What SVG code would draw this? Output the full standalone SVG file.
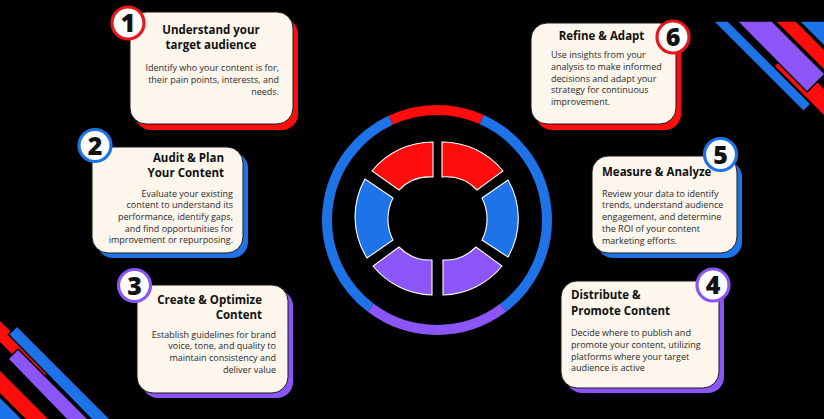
<svg xmlns="http://www.w3.org/2000/svg" width="824" height="419" viewBox="0 0 824 419">
<defs>
<style>
.t{font-family:"Open Sans","Liberation Sans",sans-serif;font-weight:700;font-size:11.5px;fill:#111}
.d{font-family:"Open Sans","Liberation Sans",sans-serif;font-weight:400;font-size:9px;fill:#2a2a2a}
.n{font-family:"Open Sans","Liberation Sans",sans-serif;font-weight:800;font-size:25px;fill:#111;text-anchor:middle}
.card{fill:#fdf6ec;stroke:#1a1a1a;stroke-width:1}
.badge{fill:#fff;stroke-width:3.2}
.r{fill:#ff0c0c}.b{fill:#1f73e8}.p{fill:#8c55f7}
.seg{stroke:#fff;stroke-width:1.1}
.ring{fill:none;stroke-width:10}
.st{stroke:#000;stroke-width:1.5}
</style>
</defs>
<rect width="824" height="419" fill="#000"/>

<g id="decor-top-right">
<polygon class="r st" points="774,66 788,52 830,94 830,122"/>
<polygon class="b st" points="713,21 728,21 811,104 803.5,111.5"/>
<polygon class="p st" points="737,21 772,21 825,74 807,92"/>
<polygon class="r st" points="775,21 796,21 826,51 826,72"/>
<polygon class="b st" points="799,21 826,21 826,48"/>
</g>
<g id="decor-bottom-left">
<polygon class="r st" points="-2,318 51,371 39.5,382.5 -2,341"/>
<polygon class="b st" points="17,326 112,421 93,421 8.5,334.5"/>
<polygon class="r st" points="-2,368 51,421 27,421 -2,392"/>
<polygon class="p st" points="18,349 90,421 68,421 8,359"/>
<polygon class="b st" points="-2,395 -2,421 24,421"/>
</g>

<g id="ring">
<path class="ring" stroke="#ff0c0c" d="M390.5,120.3 A110,110 0 0,1 481.7,119.5"/>
<path class="ring" stroke="#1f73e8" d="M481.7,119.5 A110,110 0 0,1 503.2,307.8"/>
<path class="ring" stroke="#8c55f7" d="M503.2,307.8 A110,110 0 0,1 370.8,307.8"/>
<path class="ring" stroke="#1f73e8" d="M370.8,307.8 A110,110 0 0,1 390.5,120.3"/>
</g>

<g id="donut">
<path class="seg r" d="M433,142 A78,78 0 0,0 372,171 L399,190 A43,43 0 0,1 433,177 Z"/>
<path class="seg r" d="M442,142 A78,78 0 0,1 503,171 L477,190 A43,43 0 0,0 442,177 Z"/>
<path class="seg b" d="M365,179 A77,77 0 0,0 367,258 L393,240 A46,46 0 0,1 393,198 Z"/>
<path class="seg b" d="M508,180 A77,77 0 0,1 508,257 L482,240 A46,46 0 0,0 482,198 Z"/>
<path class="seg p" d="M373,266 A78,78 0 0,0 432,295 L432,260 A43,43 0 0,1 399,247 Z"/>
<path class="seg p" d="M502,266 A78,78 0 0,1 443,295 L443,260 A43,43 0 0,0 476,247 Z"/>
</g>

<g id="step1">
<rect class="r" x="135" y="18" width="163" height="112" rx="16"/>
<rect class="card" x="130" y="12" width="163" height="112" rx="16"/>
<circle class="badge" cx="128" cy="23" r="16" stroke="#e8161c"/>
<text class="n" x="128" y="32">1</text>
<text class="t" x="211" y="34" text-anchor="middle">Understand your</text>
<text class="t" x="211" y="49" text-anchor="middle">target audience</text>
<text class="d" text-anchor="end"><tspan x="279" y="70.5">Identify who your content is for,</tspan><tspan x="279" y="82.5">their pain points, interests, and</tspan><tspan x="279" y="94.5">needs.</tspan></text>
</g>

<g id="step2">
<rect class="b" x="97" y="152" width="151" height="106" rx="16"/>
<rect class="card" x="92" y="147" width="151" height="106" rx="16"/>
<circle class="badge" cx="95" cy="145.5" r="16" stroke="#1f73e8"/>
<text class="n" x="95" y="154.5">2</text>
<text class="t" x="224" y="162" text-anchor="end">Audit &amp; Plan</text>
<text class="t" x="224" y="177" text-anchor="end">Your Content</text>
<text class="d" text-anchor="end"><tspan x="233" y="196.5">Evaluate your existing</tspan><tspan x="233" y="208.2">content to understand its</tspan><tspan x="233" y="219.9">performance, identify gaps,</tspan><tspan x="233" y="231.6">and find opportunities for</tspan><tspan x="233" y="243.3">improvement or repurposing.</tspan></text>
</g>

<g id="step3">
<rect class="p" x="142" y="290" width="151" height="108" rx="16"/>
<rect class="card" x="137" y="285" width="151" height="108" rx="16"/>
<circle class="badge" cx="134.5" cy="285.5" r="16" stroke="#8c55f7"/>
<text class="n" x="134.5" y="294.5">3</text>
<text class="t" x="262" y="304" text-anchor="end">Create &amp; Optimize</text>
<text class="t" x="262" y="319" text-anchor="end">Content</text>
<text class="d" text-anchor="end"><tspan x="276" y="337.5">Establish guidelines for brand</tspan><tspan x="276" y="349.2">voice, tone, and quality to</tspan><tspan x="276" y="360.9">maintain consistency and</tspan><tspan x="276" y="372.6">deliver value</tspan></text>
</g>

<g id="step4">
<rect class="p" x="566" y="286" width="158" height="107" rx="16"/>
<rect class="card" x="561" y="281" width="158" height="107" rx="16"/>
<circle class="badge" cx="713" cy="285" r="16" stroke="#8c55f7"/>
<text class="n" x="713" y="294">4</text>
<text class="t" x="571" y="299">Distribute &amp;</text>
<text class="t" x="571" y="315">Promote Content</text>
<text class="d"><tspan x="571" y="336">Decide where to publish and</tspan><tspan x="571" y="347.8">promote your content, utilizing</tspan><tspan x="571" y="359.6">platforms where your target</tspan><tspan x="571" y="371.4">audience is active</tspan></text>
</g>

<g id="step5">
<rect class="b" x="597" y="161" width="145" height="97" rx="16"/>
<rect class="card" x="592" y="156" width="145" height="97" rx="16"/>
<circle class="badge" cx="720.5" cy="154.5" r="16" stroke="#1f73e8"/>
<text class="n" x="720.5" y="163.5">5</text>
<text class="t" x="602" y="176">Measure &amp; Analyze</text>
<text class="d"><tspan x="602" y="196.5">Review your data to identify</tspan><tspan x="602" y="208.3">trends, understand audience</tspan><tspan x="602" y="220.1">engagement, and determine</tspan><tspan x="602" y="231.9">the ROI of your content</tspan><tspan x="602" y="243.7">marketing efforts.</tspan></text>
</g>

<g id="step6">
<rect class="r" x="536" y="29" width="145" height="101" rx="16"/>
<rect class="card" x="531" y="23" width="145" height="101" rx="16"/>
<circle class="badge" cx="673" cy="37" r="16" stroke="#e8161c"/>
<text class="n" x="673" y="46">6</text>
<text class="t" x="601.5" y="40" text-anchor="middle">Refine &amp; Adapt</text>
<text class="d"><tspan x="551" y="58">Use insights from your</tspan><tspan x="551" y="69.8">analysis to make informed</tspan><tspan x="551" y="81.6">decisions and adapt your</tspan><tspan x="551" y="93.4">strategy for continuous</tspan><tspan x="551" y="105.2">improvement.</tspan></text>
</g>
</svg>
